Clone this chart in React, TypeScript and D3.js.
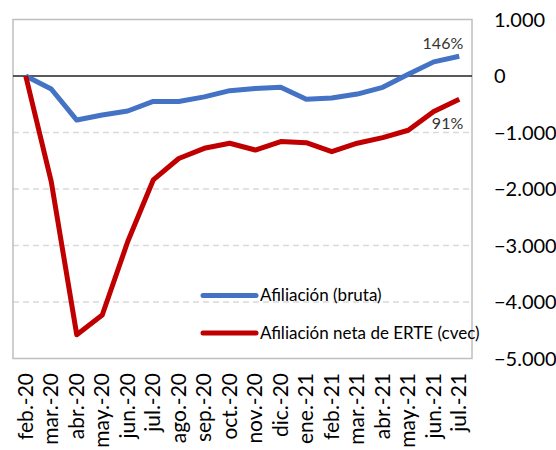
import React, { useEffect, useRef } from "react";
import * as d3 from "d3";

// months on the x axis
const months = [
  "feb.-20", "mar.-20", "abr.-20", "may.-20", "jun.-20", "jul.-20",
  "ago.-20", "sep.-20", "oct.-20", "nov.-20", "dic.-20", "ene.-21",
  "feb.-21", "mar.-21", "abr.-21", "may.-21", "jun.-21", "jul.-21",
];

// series values (thousands)
const bruta = [0, -230, -780, -690, -620, -450, -450, -370, -260, -220, -200, -410, -390, -320, -200, 30, 250, 350];
const neta = [0, -1870, -4580, -4230, -2930, -1840, -1460, -1280, -1190, -1310, -1160, -1180, -1340, -1190, -1090, -960, -630, -410];

const yTicks = [1000, 0, -1000, -2000, -3000, -4000, -5000];
const seriesNames = ["Afiliación (bruta)", "Afiliación neta de ERTE (cvec)"];
const endLabels = ["146%", "91%"];

const FONT = "Lato, 'Open Sans', sans-serif";

const App = () => {
  const svgRef = useRef<SVGSVGElement>(null);

  useEffect(() => {
    const svg = d3.select(svgRef.current);
    svg.selectAll("*").remove();

    const left = 13, right = 472, top = 19.5, bottom = 358.5;

    const x = d3.scaleBand<string>().domain(months).range([left, right]);
    const y = d3.scaleLinear().domain([-5000, 1000]).range([bottom, top]);
    const cx = (m: string) => (x(m) as number) + x.bandwidth() / 2;

    // dashed grid
    svg
      .append("g")
      .selectAll("line")
      .data(yTicks.filter((t) => t !== 0 && t !== 1000 && t !== -5000))
      .join("line")
      .attr("x1", left)
      .attr("x2", right)
      .attr("y1", (d) => y(d))
      .attr("y2", (d) => y(d))
      .attr("stroke", "#d9d9d9")
      .attr("stroke-width", 1.5)
      .attr("stroke-dasharray", "6,4");

    // frame
    svg
      .append("rect")
      .attr("x", left)
      .attr("y", top)
      .attr("width", right - left)
      .attr("height", bottom - top)
      .attr("fill", "none")
      .attr("stroke", "#bfbfbf")
      .attr("stroke-width", 1.5);

    // zero line
    svg
      .append("line")
      .attr("x1", left)
      .attr("x2", right)
      .attr("y1", y(0))
      .attr("y2", y(0))
      .attr("stroke", "#222")
      .attr("stroke-width", 1.5);

    // right axis labels
    svg
      .append("g")
      .selectAll("text")
      .data(yTicks)
      .join("text")
      .attr("x", 494)
      .attr("y", (d) => y(d))
      .attr("dy", "0.35em")
      .style("font-family", FONT)
      .style("font-size", "20px")
      .attr("fill", "#000")
      .text((d) => d3.format(",")(d).replace(/,/g, "."));

    // x labels rotated
    svg
      .append("g")
      .selectAll("text")
      .data(months)
      .join("text")
      .attr("transform", (d) => `translate(${cx(d) + 7},373) rotate(-90)`)
      .attr("text-anchor", "end")
      .style("font-family", FONT)
      .style("font-size", "21px")
      .attr("fill", "#000")
      .text((d) => d);

    const line = d3
      .line<number>()
      .x((d, i) => cx(months[i]))
      .y((d) => y(d));

    const colors = ["#4472c4", "#c00000"];
    [bruta, neta].forEach((s, i) => {
      svg
        .append("path")
        .datum(s)
        .attr("fill", "none")
        .attr("stroke", colors[i])
        .attr("stroke-width", 5)
        .attr("stroke-linejoin", "round")
        .attr("d", line);
    });

    // end labels
    const last = months[months.length - 1];
    svg
      .append("text")
      .attr("x", cx(last) + 4)
      .attr("y", y(bruta[bruta.length - 1]) - 7)
      .attr("text-anchor", "end")
      .style("font-family", FONT)
      .style("font-size", "16px")
      .attr("fill", "#333")
      .text(endLabels[0]);
    svg
      .append("text")
      .attr("x", cx(last) + 4)
      .attr("y", y(neta[neta.length - 1]) + 30)
      .attr("text-anchor", "end")
      .style("font-family", FONT)
      .style("font-size", "16px")
      .attr("fill", "#333")
      .text(endLabels[1]);

    // legend
    const legend = svg.append("g");
    seriesNames.forEach((name, i) => {
      const ly = 295.5 + i * 37.5;
      legend
        .append("line")
        .attr("x1", 203)
        .attr("x2", 256)
        .attr("y1", ly)
        .attr("y2", ly)
        .attr("stroke", colors[i])
        .attr("stroke-width", 5)
        .attr("stroke-linecap", "round");
      legend
        .append("text")
        .attr("x", 260)
        .attr("y", ly)
        .attr("dy", "0.35em")
        .style("font-family", FONT)
        .style("font-size", "17px")
        .attr("fill", "#000")
        .text(name);
    });
  }, []);

  return (
    <svg
      ref={svgRef}
      width={556}
      height={450}
      style={{ position: "absolute", left: 0, top: 0, background: "#fff" }}
    />
  );
};

export default App;
